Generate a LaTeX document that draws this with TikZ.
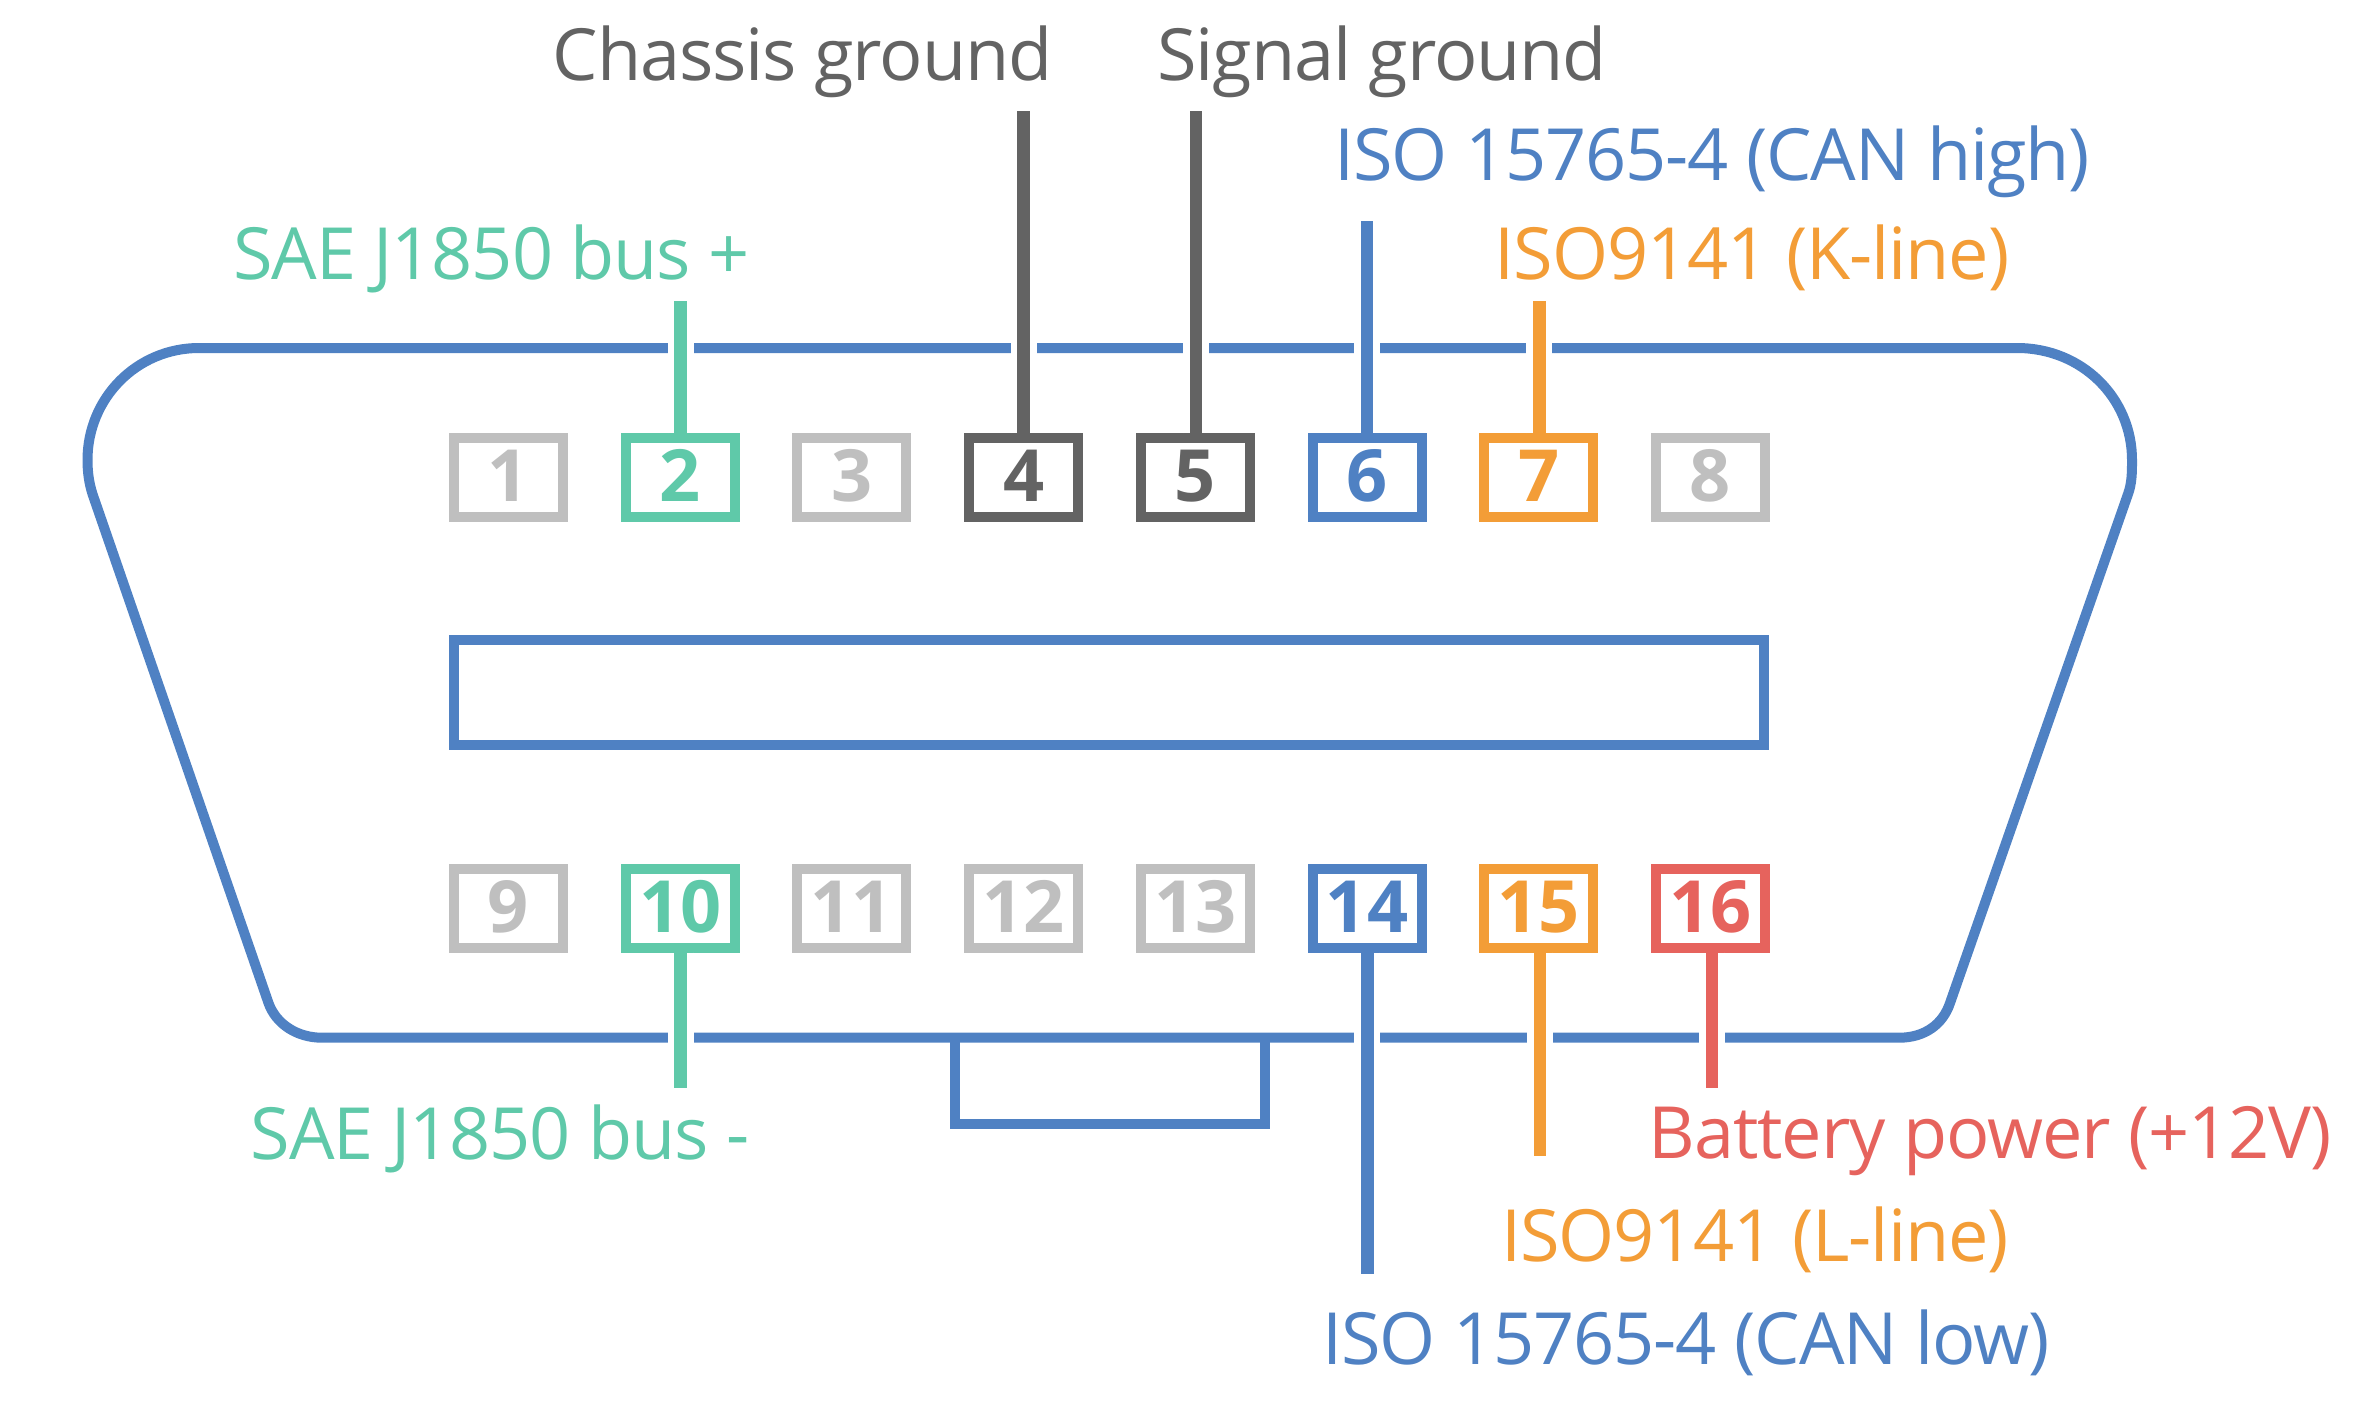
\documentclass[tikz,border=0pt]{standalone}
\usepackage{fontspec}
\setmainfont{Open Sans}
\newfontfamily\labfont[LetterSpace=-1.55]{Open Sans}
\definecolor{cblue}{HTML}{4F81C3}
\definecolor{cgreen}{HTML}{5FC9A9}
\definecolor{corange}{HTML}{F39D37}
\definecolor{cred}{HTML}{E6635D}
\definecolor{cgray}{HTML}{BFBFBF}
\definecolor{cdark}{HTML}{636363}
\tikzset{
  body/.style={draw=cblue,line width=10pt,line join=miter},
  pinbox/.style={draw=#1,text=#1,line width=10pt,minimum width=109pt,minimum height=78.7pt,
    inner sep=0pt,text height=51pt,text depth=2.5pt,
    font=\fontsize{72}{80}\selectfont\bfseries},
  lead/.style={draw=#1,line width=12.5pt,preaction={draw=white,line width=26pt}},
  lab/.style={text=#1,inner sep=0pt,anchor=base,font=\fontsize{72}{80}\labfont},
}
\begin{document}
\begin{tikzpicture}[x=1pt,y=-1pt]
\useasboundingbox (0,0) rectangle (2376,1416);
% connector body
\draw[body] (199,348) -- (2017,348)
  .. controls (2082,348) and (2132,398) .. (2132,460)
  .. controls (2132,472) and (2132,483) .. (2128,494)
  -- (1950,1003)
  .. controls (1943,1024) and (1925,1037.7) .. (1899,1037.7)
  -- (322,1037.7)
  .. controls (297,1037.7) and (276,1024) .. (268.5,1003)
  -- (92.5,494)
  .. controls (89,483) and (87.5,472) .. (87.5,460)
  .. controls (87.5,398) and (137,348) .. (199,348) -- cycle;
\draw[body] (454,640) rectangle (1764,745);
\draw[body] (955,1037.7) -- (955,1124) -- (1265,1124) -- (1265,1037.7);
% pins, top row
\node[pinbox=cgray]   (p1) at (508.5,477.5) {1};
\node[pinbox=cgreen]  (p2) at (680.2,477.5) {2};
\node[pinbox=cgray]   (p3) at (851.9,477.5) {3};
\node[pinbox=cdark]   (p4) at (1023.6,477.5) {4};
\node[pinbox=cdark]   (p5) at (1195.3,477.5) {5};
\node[pinbox=cblue]   (p6) at (1367,477.5) {6};
\node[pinbox=corange] (p7) at (1538.7,477.5) {7};
\node[pinbox=cgray]   (p8) at (1710.4,477.5) {8};
% pins, bottom row
\node[pinbox=cgray]   (p9)  at (508.5,908.3) {9};
\node[pinbox=cgreen]  (p10) at (680.2,908.3) {10};
\node[pinbox=cgray]   (p11) at (851.9,908.3) {11};
\node[pinbox=cgray]   (p12) at (1023.6,908.3) {12};
\node[pinbox=cgray]   (p13) at (1195.3,908.3) {13};
\node[pinbox=cblue]   (p14) at (1367,908.3) {14};
\node[pinbox=corange] (p15) at (1538.7,908.3) {15};
\node[pinbox=cred]    (p16) at (1710.4,908.3) {16};
% free ends of the leads
\coordinate (e2)  at (680.6,301);
\coordinate (e4)  at (1023.6,111);
\coordinate (e5)  at (1195.8,111);
\coordinate (e6)  at (1367.2,221.4);
\coordinate (e7)  at (1539.3,301);
\coordinate (e10) at (680.6,1087.7);
\coordinate (e14) at (1367.4,1273.5);
\coordinate (e15) at (1540,1156);
\coordinate (e16) at (1712,1087.7);
% leads
\draw[lead=cgreen]  (e2 |- p2.north) -- (e2);
\draw[lead=cdark]   (e4 |- p4.north) -- (e4);
\draw[lead=cdark]   (e5 |- p5.north) -- (e5);
\draw[lead=cblue]   (e6 |- p6.north) -- (e6);
\draw[lead=corange] (e7 |- p7.north) -- (e7);
\draw[lead=cgreen]  (e10 |- p10.south) -- (e10);
\draw[lead=cblue]   (e14 |- p14.south) -- (e14);
\draw[lead=corange] (e15 |- p15.south) -- (e15);
\draw[lead=cred]    (e16 |- p16.south) -- (e16);
% labels
\node[lab=cdark]   (l4)  at (802.5,80) {Chassis ground};
\node[lab=cdark]   (l5)  at (1382,80) {Signal ground};
\node[lab=cblue]   (l6)  at (1712,180) {ISO 15765-4 (CAN high)};
\node[lab=corange] (l7)  at (1752,279) {ISO9141 (K-line)};
\node[lab=cgreen]  (l2)  at (491.5,279) {SAE J1850 bus +};
\node[lab=cgreen]  (l10) at (500.3,1159) {SAE J1850 bus -};
\node[lab=cred]    (l16) at (1990.3,1158.7) {Battery power (+12V)};
\node[lab=corange] (l15) at (1754.8,1261.7) {ISO9141 (L-line)};
\node[lab=cblue]   (l14) at (1686,1364.6) {ISO 15765-4 (CAN low)};
\end{tikzpicture}
\end{document}
